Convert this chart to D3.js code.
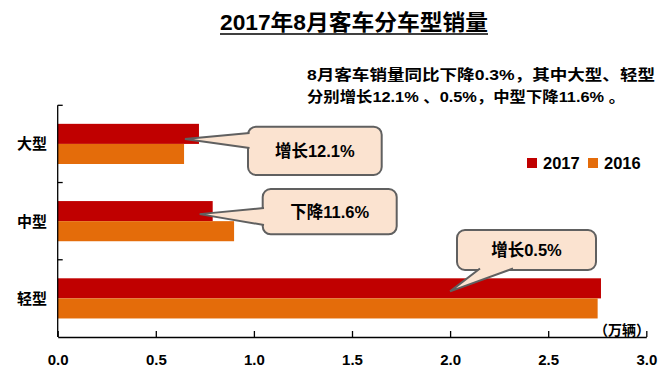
<!DOCTYPE html>
<html><head><meta charset="utf-8">
<script src="https://cdn.jsdelivr.net/npm/d3@7"></script>
<style>
html,body{margin:0;padding:0;background:#fff;}
svg{display:block;}
text{font-family:"Liberation Sans",Arial,"Noto Sans CJK SC",sans-serif;font-weight:bold;fill:#000;}
</style></head>
<body>
<svg id="c" width="667" height="377"></svg>
<script>
const categories = ["大型", "中型", "轻型"];
const seriesNames = ["2017", "2016"];
const values2017 = [0.720, 0.790, 2.769];
const values2016 = [0.644, 0.899, 2.752];
const xTicks = [0, 0.5, 1.0, 1.5, 2.0, 2.5, 3.0];
const xTickLabels = ["0.0", "0.5", "1.0", "1.5", "2.0", "2.5", "3.0"];
const callouts = ["增长12.1%", "下降11.6%", "增长0.5%"];
const titleText = "2017年8月客车分车型销量";
const noteLines = ["8月客车销量同比下降0.3%，其中大型、轻型", "分别增长12.1% 、0.5%，中型下降11.6% 。"];
const unitText = "（万辆）";

const colors = {"2017": "#C00000", "2016": "#E46C0A"};
const svg = d3.select("#c");

const x = d3.scaleLinear().domain([0, 3]).range([57.7, 646.3]);
const y = d3.scaleBand().domain(categories).range([105.3, 337]).padding(0);
const bw = y.bandwidth();
const y1 = d3.scaleBand().domain(seriesNames).range([bw * 0.24, bw * 0.76]);

const data = categories.map((c, i) => ({cat: c, vals: {"2017": values2017[i], "2016": values2016[i]}}));

// bars
const g = svg.append("g");
data.forEach(d => {
  seriesNames.forEach(s => {
    g.append("rect")
      .attr("x", x(0))
      .attr("y", y(d.cat) + y1(s))
      .attr("width", x(d.vals[s]) - x(0))
      .attr("height", y1.bandwidth())
      .attr("fill", colors[s]);
  });
});

// x axis
const xAxis = d3.axisBottom(x).tickValues(xTicks).tickFormat((d, i) => xTickLabels[i]).tickSizeInner(-6).tickSizeOuter(0).tickPadding(17);
const xg = svg.append("g").attr("transform", `translate(0,337)`).call(xAxis);
xg.select(".domain").attr("stroke", "#000").attr("stroke-width", 1.3);
xg.selectAll(".tick line").attr("stroke", "#000").attr("stroke-width", 1.3);
xg.selectAll(".tick text").attr("font-size", 15).attr("font-weight", "bold")
  .attr("font-family", '"Liberation Sans",Arial,sans-serif').attr("fill", "#000");

// y axis line and boundary ticks
svg.append("line").attr("x1", x(0)).attr("x2", x(0)).attr("y1", y.range()[0]).attr("y2", 337)
  .attr("stroke", "#000").attr("stroke-width", 1.3);
const bounds = categories.map(c => y(c));
bounds.forEach(b => {
  svg.append("line").attr("x1", x(0)).attr("x2", x(0) + 5).attr("y1", b).attr("y2", b)
    .attr("stroke", "#000").attr("stroke-width", 1.3);
});
categories.forEach(c => {
  svg.append("text").attr("x", 47).attr("y", y(c) + bw / 2 + 5.5)
    .attr("text-anchor", "end").attr("font-size", 15).text(c);
});

// title
svg.append("text").attr("x", 220).attr("y", 30).attr("font-size", 22)
  .attr("textLength", 268).attr("lengthAdjust", "spacingAndGlyphs").text(titleText);
svg.append("line").attr("x1", 220).attr("x2", 488).attr("y1", 34).attr("y2", 34)
  .attr("stroke", "#000").attr("stroke-width", 1.6);

// note text
svg.append("text").attr("x", 307).attr("y", 80).attr("font-size", 15)
  .attr("textLength", 348).attr("lengthAdjust", "spacingAndGlyphs").text(noteLines[0]);
svg.append("text").attr("x", 307).attr("y", 101.5).attr("font-size", 15)
  .attr("textLength", 318).attr("lengthAdjust", "spacingAndGlyphs").text(noteLines[1]);

// legend
seriesNames.forEach((s, i) => {
  const lx = 527 + i * 61;
  svg.append("rect").attr("x", lx).attr("y", 158).attr("width", 10).attr("height", 10).attr("fill", colors[s]);
  svg.append("text").attr("x", lx + 16).attr("y", 169).attr("font-size", 16.5).text(s);
});

// unit
svg.append("text").attr("x", 594).attr("y", 335)
  .attr("font-size", 14).attr("font-family", '"Noto Sans CJK SC",sans-serif').attr("font-weight", "bold")
  .text(unitText);

// callouts
const boxFill = "#FBE3D0", boxStroke = "#606060";
function callout(bx, by, w, h, base1, base2, tip, label) {
  const cg = svg.append("g");
  cg.append("rect").attr("x", bx).attr("y", by).attr("width", w).attr("height", h)
    .attr("rx", 8).attr("ry", 8).attr("fill", boxFill).attr("stroke", boxStroke).attr("stroke-width", 2);
  cg.append("polygon").attr("points", [base1, tip, base2].map(p => p.join(",")).join(" "))
    .attr("fill", boxFill).attr("stroke", "none");
  cg.append("polyline").attr("points", [base1, tip, base2].map(p => p.join(",")).join(" "))
    .attr("fill", "none").attr("stroke", boxStroke).attr("stroke-width", 2).attr("stroke-linejoin", "miter");
  cg.append("text").attr("x", bx + w / 2).attr("y", by + h / 2 + 6).attr("text-anchor", "middle")
    .attr("font-size", 16.5).text(label);
}
const yMid = (c, s, f) => y(c) + y1(s) + y1.bandwidth() * f;
callout(248, 126.7, 133.7, 48.3, [249.5, 133], [249.5, 148], [x(values2017[0]) - 14, yMid("大型", "2017", 0.75)], callouts[0]);
callout(262.7, 189, 134, 45.3, [264, 208], [264, 225], [x(values2017[1]) - 13, yMid("中型", "2017", 0.65)], callouts[1]);
callout(457, 230, 139, 40, [480, 268.5], [513, 268.5], [x(2.0), yMid("轻型", "2017", 0.65)], callouts[2]);
</script>
</body></html>
